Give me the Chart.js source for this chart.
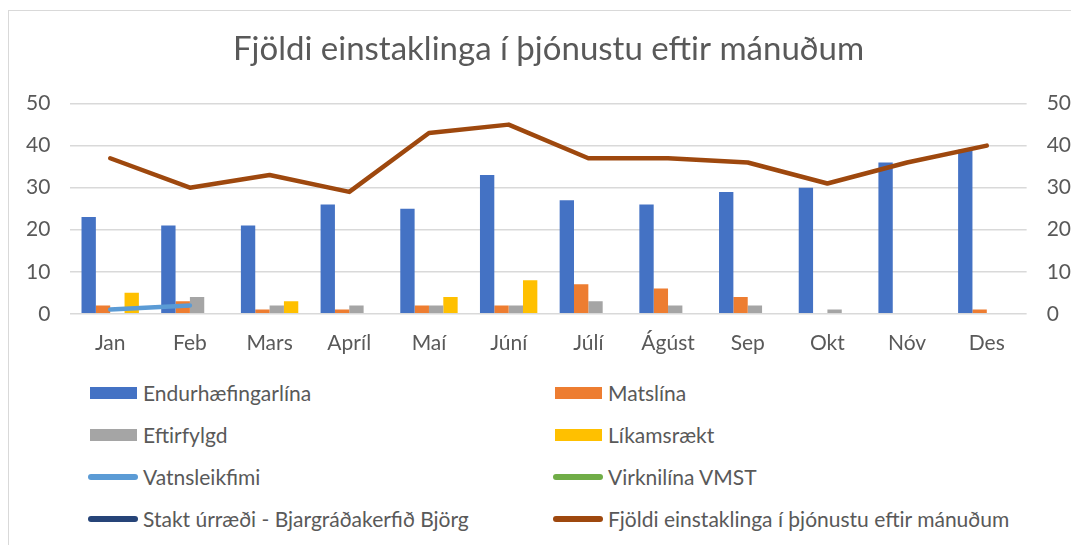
<!DOCTYPE html>
<html>
<head>
<meta charset="utf-8">
<script src="https://cdn.jsdelivr.net/npm/chart.js@4"></script>
<style>
    body { margin: 0; background: #fff; font-family: Lato, sans-serif; overflow: hidden; }
    #frame { position: absolute; left: 8px; top: 10px; width: 1100px; height: 600px; border: 1px solid #d9d9d9; }
    #wrap { position: absolute; left: 0; top: 0; width: 1095px; height: 365px; }
    #legend { position: absolute; left: 88px; top: 380px; display: grid; grid-template-columns: 465px 460px; row-gap: 17px; }
    .item { display: flex; align-items: center; height: 25px; font-size: 21px; color: #595959; }
    .mark { width: 50px; margin-right: 5px; }
</style>
</head>
<body>
<div id="frame"></div>
<div id="wrap"><canvas id="chart"></canvas></div>
<div id="legend"></div>
<script>
const months = ["Jan", "Feb", "Mars", "Apríl", "Maí", "Júní", "Júlí", "Ágúst", "Sep", "Okt", "Nóv", "Des"];
const endurhaefing = [23, 21, 21, 26, 25, 33, 27, 26, 29, 30, 36, 39];
const matslina = [2, 3, 1, 1, 2, 2, 7, 6, 4, 0, 0, 1];
const eftirfylgd = [0, 4, 2, 2, 2, 2, 3, 2, 2, 1, 0, 0];
const likamsraekt = [5, 0, 3, 0, 4, 8, 0, 0, 0, 0, 0, 0];
const vatnsleikfimi = [1, 2, null, null, null, null, null, null, null, null, null, null];
const virknilina = [null, null, null, null, null, null, null, null, null, null, null, null];
const staktUrraedi = [null, null, null, null, null, null, null, null, null, null, null, null];
const fjoldi = [37, 30, 33, 29, 43, 45, 37, 37, 36, 31, 36, 40];
const yTicks = [0, 10, 20, 30, 40, 50];

const textColor = "#595959";

function barSet(label, data, color) {
    return {
        type: "bar",
        label: label,
        data: data,
        backgroundColor: color,
        borderWidth: 0,
        categoryPercentage: 0.72,
        barPercentage: 1.0,
        yAxisID: "y",
        order: 2
    };
}

function lineSet(label, data, color, axis) {
    return {
        type: "line",
        label: label,
        data: data,
        borderColor: color,
        backgroundColor: color,
        borderWidth: 4.5,
        pointRadius: 0,
        tension: 0,
        borderCapStyle: "round",
        borderJoinStyle: "round",
        fill: false,
        yAxisID: axis,
        order: 1
    };
}

const chart = new Chart(document.getElementById("chart"), {
    data: {
        labels: months,
        datasets: [
            barSet("Endurhæfingarlína", endurhaefing, "#4472c4"),
            barSet("Matslína", matslina, "#ed7d31"),
            barSet("Eftirfylgd", eftirfylgd, "#a5a5a5"),
            barSet("Líkamsrækt", likamsraekt, "#ffc000"),
            lineSet("Vatnsleikfimi", vatnsleikfimi, "#5b9bd5", "y"),
            lineSet("Virknilína VMST", virknilina, "#70ad47", "y"),
            lineSet("Stakt úrræði - Bjargráðakerfið Björg", staktUrraedi, "#264478", "y"),
            lineSet("Fjöldi einstaklinga í þjónustu eftir mánuðum", fjoldi, "#9e480e", "y1")
        ]
    },
    options: {
        responsive: true,
        maintainAspectRatio: false,
        animation: false,
        layout: { padding: { left: 6, right: 4, top: 20, bottom: 0 } },
        plugins: {
            legend: { display: false },
            tooltip: { enabled: false },
            title: {
                display: true,
                text: "Fjöldi einstaklinga í þjónustu eftir mánuðum",
                color: textColor,
                font: { family: "Lato", size: 33, weight: "normal" },
                padding: { top: 10, bottom: 34 }
            }
        },
        scales: {
            x: {
                grid: { display: false },
                border: { display: false },
                ticks: { color: textColor, font: { family: "Lato", size: 21 }, padding: 9 }
            },
            y: {
                min: 0,
                max: 50,
                afterBuildTicks: (axis) => { axis.ticks = yTicks.map(v => ({ value: v })); },
                grid: { color: "#d9d9d9", lineWidth: 1.5, drawTicks: false },
                border: { display: false },
                ticks: { color: textColor, font: { family: "Lato", size: 21 }, padding: 20 }
            },
            y1: {
                position: "right",
                min: 0,
                max: 50,
                afterBuildTicks: (axis) => { axis.ticks = yTicks.map(v => ({ value: v })); },
                grid: { display: false, drawTicks: false },
                border: { display: false },
                ticks: { color: textColor, font: { family: "Lato", size: 21 }, padding: 20 }
            }
        }
    }
});

// legend in two columns, built from the chart's datasets
const legendEl = document.getElementById("legend");
chart.data.datasets.forEach(ds => {
    const item = document.createElement("div");
    item.className = "item";
    const mark = document.createElement("span");
    mark.className = "mark";
    if (ds.type === "bar") {
        mark.style.height = "12px";
        mark.style.background = ds.backgroundColor;
        mark.style.width = "47px";
        mark.style.marginLeft = "2px";
        mark.style.marginRight = "6px";
    } else {
        mark.style.height = "6px";
        mark.style.borderRadius = "3px";
        mark.style.background = ds.borderColor;
    }
    const txt = document.createElement("span");
    txt.textContent = ds.label;
    item.appendChild(mark);
    item.appendChild(txt);
    legendEl.appendChild(item);
});
</script>
</body>
</html>
